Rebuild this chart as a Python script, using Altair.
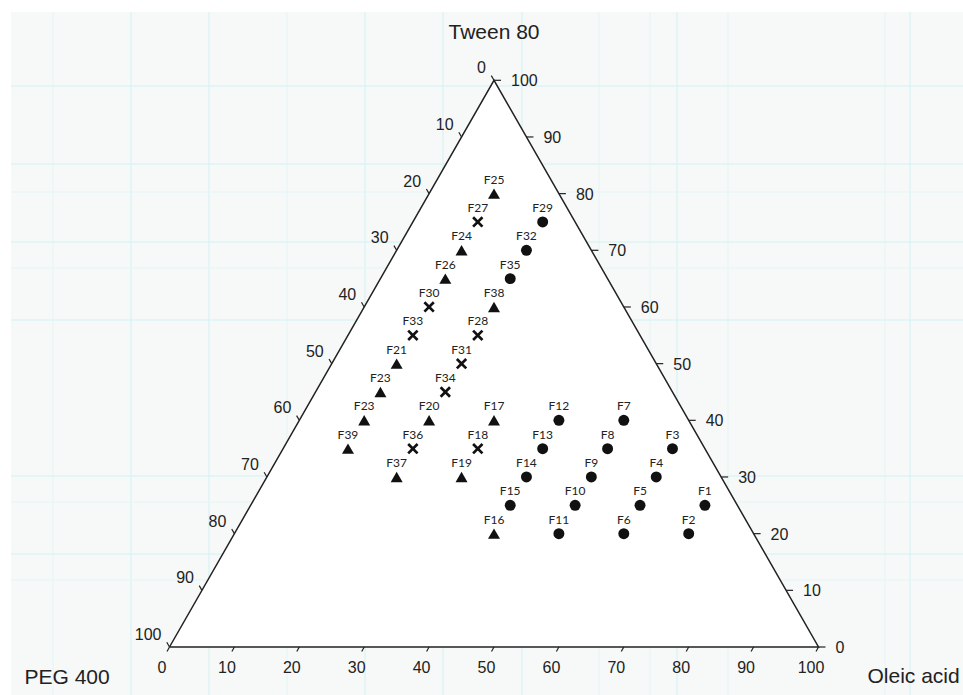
import altair as alt
import pandas as pd

# Formulations: composition (%) of oleic acid / Tween 80 / PEG 400 and observed phase
labels = ["F1", "F2", "F3", "F4", "F5", "F6", "F7", "F8", "F9", "F10",
          "F11", "F12", "F13", "F14", "F15", "F16", "F17", "F18", "F19", "F20",
          "F21", "F23", "F23", "F24", "F25", "F26", "F27", "F28", "F29", "F30",
          "F31", "F32", "F33", "F34", "F35", "F36", "F37", "F38", "F39"]
oleic = [70, 70, 60, 60, 60, 60, 50, 50, 50, 50,
         50, 40, 40, 40, 40, 40, 30, 30, 30, 20,
         10, 10, 10, 10, 10, 10, 10, 20, 20, 10,
         20, 20, 10, 20, 20, 20, 20, 20, 10]
tween = [25, 20, 35, 30, 25, 20, 40, 35, 30, 25,
         20, 40, 35, 30, 25, 20, 40, 35, 30, 40,
         50, 45, 40, 70, 80, 65, 75, 55, 75, 60,
         50, 70, 55, 45, 65, 35, 30, 60, 35]
peg = [5, 10, 5, 10, 15, 20, 10, 15, 20, 25,
       30, 20, 25, 30, 35, 40, 30, 35, 40, 40,
       40, 45, 50, 20, 10, 25, 15, 25, 5, 30,
       30, 10, 35, 35, 15, 45, 50, 20, 55]
phase = ["circle"] * 15 + ["triangle", "triangle", "cross", "triangle", "triangle",
         "triangle", "triangle", "triangle", "triangle", "triangle", "triangle",
         "cross", "cross", "circle", "cross", "cross", "circle", "cross", "cross",
         "circle", "cross", "triangle", "triangle", "triangle"]

tick_values = list(range(0, 101, 10))
title_top, title_left, title_right = "Tween 80", "PEG 400", "Oleic acid"

# page layout of the ternary frame
W, H = 963, 695
PX0, PX_PER = 169.5, 6.49     # pixel column of X=0, pixels per X unit
PY0, PY_PER = 647.0, 5.667    # pixel row of Tween=0, pixels per Tween unit


def to_x(px):
    return (px - PX0) / PX_PER


def to_t(py):
    return (PY0 - py) / PY_PER


xs = alt.Scale(domain=[to_x(0), to_x(W)], nice=False, zero=False)
ys = alt.Scale(domain=[to_t(H), to_t(0)], nice=False, zero=False)


def X(field):
    return alt.X(field, type="quantitative", scale=xs, axis=None)


def Y(field):
    return alt.Y(field, type="quantitative", scale=ys, axis=None)


# ---- graph-paper backdrop ----
paper = pd.DataFrame({"x": [to_x(11)], "x2": [to_x(W)], "y": [to_t(H)], "y2": [to_t(12)]})
backdrop = alt.Chart(paper).mark_rect(color="#f7f8f8").encode(
    x=X("x"), x2="x2", y=Y("y"), y2="y2")

v_major = [131, 209, 365, 443, 522, 677, 910]
v_minor = [53, 287, 599, 650, 728, 885]
h_major = [86, 164, 242, 320, 476, 554]
h_minor = [192, 268, 502, 580]


def vlines(cols, color):
    d = pd.DataFrame({"x": [to_x(c) for c in cols], "y": to_t(H), "y2": to_t(12)})
    return alt.Chart(d).mark_rule(color=color, strokeWidth=1).encode(
        x=X("x"), y=Y("y"), y2="y2")


def hlines(rows, color):
    d = pd.DataFrame({"y": [to_t(r) for r in rows], "x": to_x(11), "x2": to_x(W)})
    return alt.Chart(d).mark_rule(color=color, strokeWidth=1).encode(
        y=Y("y"), x=X("x"), x2="x2")


grid = [vlines(v_major, "#d2f2f5"), vlines(v_minor, "#e3f6f8"),
        hlines(h_major, "#d2f2f5"), hlines(h_minor, "#e3f6f8")]

# ---- triangle frame ----
frame = pd.DataFrame({"x": [0, 50, 100, 0], "y": [0, 100, 0, 0], "o": [0, 1, 2, 3]})
fill = alt.Chart(frame.iloc[:3].assign(y0=0)).mark_area(
    color="white", interpolate="linear").encode(x=X("x"), y=Y("y"), y2="y0")
outline = alt.Chart(frame).mark_line(color="#222", strokeWidth=1.5).encode(
    x=X("x"), y=Y("y"), order="o:O")

ticks = pd.DataFrame({"v": tick_values})
ticks["bx"] = ticks["v"]                    # bottom (oleic acid) axis
ticks["by"] = 0
ticks["rx"] = 100 - ticks["v"] / 2          # right (Tween 80) axis
ticks["ry"] = ticks["v"]
ticks["lx"] = (100 - ticks["v"]) / 2        # left (PEG 400) axis
ticks["ly"] = 100 - ticks["v"]
ticks["label"] = ticks["v"].astype(str)

tick_style = dict(color="#222", strokeWidth=1.2)
bottom_ticks = alt.Chart(ticks).mark_rule(x2Offset=-2.5, y2Offset=4.5, **tick_style).encode(
    x=X("bx"), y=Y("by"), x2="bx", y2="by")
right_ticks = alt.Chart(ticks).mark_rule(x2Offset=7, y2Offset=0, **tick_style).encode(
    x=X("rx"), y=Y("ry"), x2="rx", y2="ry")
left_ticks = alt.Chart(ticks).mark_rule(x2Offset=-2.7, y2Offset=-4.7, **tick_style).encode(
    x=X("lx"), y=Y("ly"), x2="lx", y2="ly")

axis_font = dict(font="Liberation Sans", fontSize=16, color="#222", baseline="middle")
bottom_labels = alt.Chart(ticks).mark_text(align="center", dx=-7.5, dy=21, **axis_font).encode(
    x=X("bx"), y=Y("by"), text="label")
right_labels = alt.Chart(ticks).mark_text(align="left", dx=17, dy=1, **axis_font).encode(
    x=X("rx"), y=Y("ry"), text="label")
left_labels = alt.Chart(ticks).mark_text(align="right", dx=-8, dy=-12, **axis_font).encode(
    x=X("lx"), y=Y("ly"), text="label")

# ---- component names at the vertices ----
title_font = dict(font="Liberation Sans", fontSize=21, color="#222", baseline="middle")
titles_top = alt.Chart(pd.DataFrame({"x": [50], "y": [100], "t": [title_top]})).mark_text(
    align="center", dy=-47, **title_font).encode(x=X("x"), y=Y("y"), text="t")
titles_left = alt.Chart(pd.DataFrame({"x": [0], "y": [0], "t": [title_left]})).mark_text(
    align="left", dx=-145, dy=31, **title_font).encode(x=X("x"), y=Y("y"), text="t")
titles_right = alt.Chart(pd.DataFrame({"x": [100], "y": [0], "t": [title_right]})).mark_text(
    align="left", dx=49, dy=30, **title_font).encode(x=X("x"), y=Y("y"), text="t")

# ---- formulations ----
pts = pd.DataFrame({"label": labels, "oleic": oleic, "tween": tween, "peg": peg, "phase": phase})
pts["x"] = pts["oleic"] + pts["tween"] / 2
pts["y"] = pts["tween"]

base = alt.Chart(pts).encode(x=X("x"), y=Y("y"))
circles = base.transform_filter(alt.datum.phase == "circle").mark_point(
    shape="circle", filled=True, size=120, color="#111", opacity=1)
triangles = base.transform_filter(alt.datum.phase == "triangle").mark_point(
    shape="triangle-up", filled=True, size=144, color="#111", opacity=1)
crosses = base.transform_filter(alt.datum.phase == "cross").mark_point(
    shape="M-1,-1L1,1M-1,1L1,-1", filled=False, size=88, strokeWidth=2.7,
    color="#111", opacity=1)
point_labels = base.mark_text(font="Lato", fontSize=12, color="#222",
                              baseline="middle", align="center", dy=-14).encode(text="label")

chart = alt.layer(
    backdrop, *grid, fill, outline,
    bottom_ticks, right_ticks, left_ticks,
    bottom_labels, right_labels, left_labels,
    titles_top, titles_left, titles_right,
    circles, triangles, crosses, point_labels,
).properties(
    width=W, height=H, padding=0,
    autosize=alt.AutoSizeParams(type="none"),
    background="white",
).configure_view(stroke=None)

chart.save("out.html", embed_options={"renderer": "svg", "actions": False})
